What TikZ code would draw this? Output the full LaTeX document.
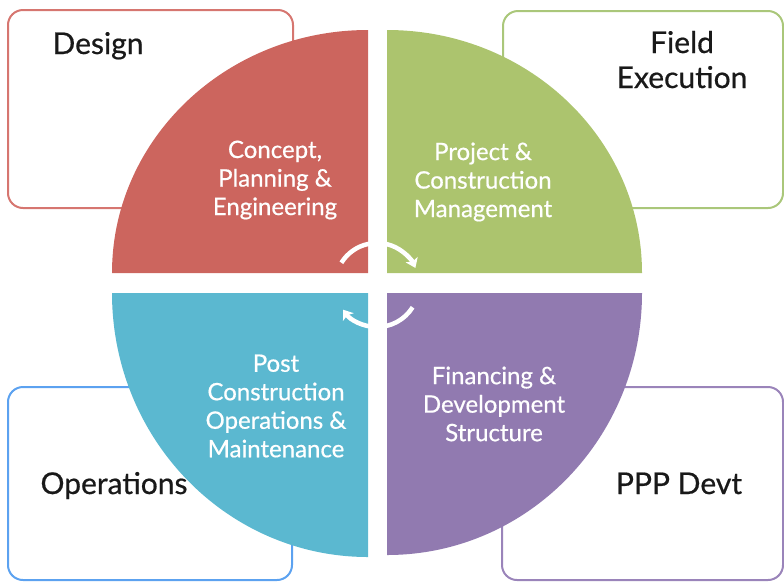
\documentclass[tikz,border=0pt]{standalone}
\usepackage{fontspec}
\setmainfont{Lato}
\newfontfamily\latomed[FakeBold=0.6]{Lato}
\usepackage{tikz}
\usetikzlibrary{shapes,arrows,arrows.meta}
\definecolor{redsec}{RGB}{204,101,94}
\definecolor{greensec}{RGB}{172,196,110}
\definecolor{bluesec}{RGB}{91,184,208}
\definecolor{purplesec}{RGB}{145,122,176}
\definecolor{redbox}{RGB}{214,118,112}
\definecolor{greenbox}{RGB}{170,199,122}
\definecolor{bluebox}{RGB}{92,162,240}
\definecolor{purplebox}{RGB}{154,132,186}
\tikzset{
  corner/.style = {line width=2pt, rounded corners=15pt},
  head/.style = {font=\latomed\fontsize{30}{35}\selectfont, text=black!90, align=center},
  inner/.style = {font=\latomed\fontsize{24}{28.5}\selectfont, text=white, align=center},
  cyc/.style = {white, line width=4.5pt, -{Stealth[length=9pt, width=13pt, inset=2pt]}}
}
\begin{document}
\begin{tikzpicture}[x=1pt, y=-1pt]
\useasboundingbox (0,0) rectangle (784,582);
% outer boxes
\draw[corner, redbox] (8,10) rectangle (293,208);
\draw[corner, greenbox] (503,11) rectangle (783,208);
\draw[corner, bluebox] (8,387) rectangle (292,580);
\draw[corner, purplebox] (502,387) rectangle (783,580);
\node[head, anchor=base] (design) at (98,54) {Design};
\node[head, anchor=base] (field) at (682,88) {Field\\Execution};
\node[head, anchor=base] (oper) at (114,494) {Operations};
\node[head, anchor=base] (ppp) at (679,494) {PPP Devt};
% quarter sectors
\fill[redsec] (368,273) -- (112,273) arc[start angle=180, end angle=270, x radius=256, y radius=243] -- cycle;
\fill[greensec] (387,273) -- (387,30) arc[start angle=270, end angle=360, x radius=255, y radius=243] -- cycle;
\fill[purplesec] (387,293) -- (642,293) arc[start angle=0, end angle=90, x radius=255, y radius=262] -- cycle;
\fill[bluesec] (368,293) -- (368,557) arc[start angle=90, end angle=180, x radius=256, y radius=264] -- cycle;
\node[inner] (concept) at (275,180) {Concept,\\Planning \&\\Engineering};
\node[inner] (project) at (483,182) {Project \&\\Construction\\Management};
\node[inner] (finance) at (494,404) {Financing \&\\Development\\Structure};
\node[inner] (post) at (276,406) {Post\\Construction\\Operations \&\\Maintenance};
% cycle arrows
\coordinate (ctr) at (377,285);
\draw[cyc] ([shift={(212:42)}]ctr) arc[start angle=212, end angle=336, radius=42];
\draw[cyc] ([shift={(32:42)}]ctr) arc[start angle=32, end angle=144, radius=42];
\end{tikzpicture}
\end{document}
